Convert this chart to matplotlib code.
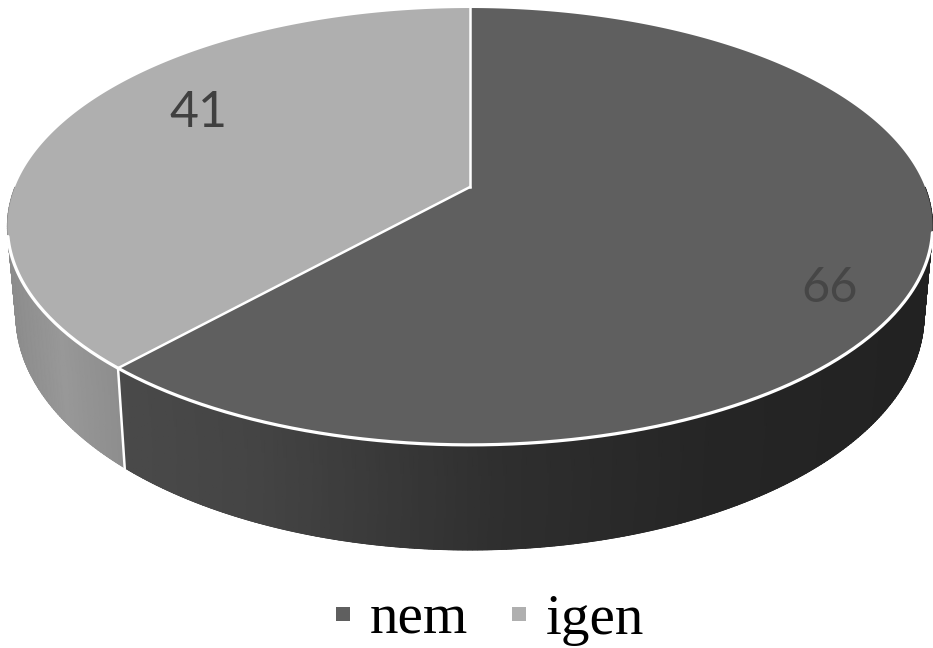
import matplotlib
matplotlib.use('Agg')
import matplotlib.pyplot as plt
from matplotlib.lines import Line2D
import numpy as np

kategoriak = ['nem', 'igen']
ertekek = [66, 41]
szinek = ['#5f5f5f', '#afafaf']

# oldalfal szinatmenet: x pixel -> szurke
nem_x = [120, 260, 500, 700, 930]
nem_sz = [0x4a, 0x44, 0x2f, 0x26, 0x22]
igen_x = [8, 60, 125]
igen_sz = [0x8c, 0x98, 0x8c]


def felso(theta):
    # teteje: perspektivikus kor
    u, v = -np.sin(theta), np.cos(theta)
    w = 1 + 0.1806 * v
    return 470 + 455 * u / w, 187 - 211.3 * v / w


def also(theta):
    u, v = -np.sin(theta), np.cos(theta)
    w = 1 + 0.18 * v
    return 470 + 446.6 * u / w, 273.4 - 226.8 * v / w


def oldalfal(ax, t, xp, sz):
    x1, y1 = felso(t)
    x2, y2 = also(t)
    g = np.interp(x1, xp, sz) / 255
    # korvonal, hogy a gouraud szele ne legyen reces
    ax.fill(np.r_[x1, x2[::-1]], np.r_[y1, y2[::-1]], color=(g.mean(), g.mean(), g.mean()), lw=0.5, zorder=1)
    ax.pcolormesh(np.c_[x1, x2], np.c_[y1, y2], np.c_[g, g], shading='gouraud',
                  cmap='gray', vmin=0, vmax=1, zorder=1.5)


fig = plt.figure(figsize=(9.33, 6.48), dpi=100)
ax = fig.add_axes([0, 0, 1, 1])
ax.set_xlim(0, 933)
ax.set_ylim(648, 0)
ax.axis('off')

hatar = 2 * np.pi * ertekek[1] / sum(ertekek)

# oldalfalak
oldalfal(ax, np.linspace(np.pi / 2, hatar, 90), igen_x, igen_sz)
oldalfal(ax, np.linspace(hatar, 3 * np.pi / 2, 260), nem_x, nem_sz)

# teteje
t_igen = np.linspace(0, hatar, 200)
t_nem = np.linspace(hatar, 2 * np.pi, 300)
xi, yi = felso(t_igen)
xn, yn = felso(t_nem)
kx, ky = 470, 187
ax.fill(np.r_[kx, xn], np.r_[ky, yn], color=szinek[0], lw=0, zorder=2)
ax.fill(np.r_[kx, xi], np.r_[ky, yi], color=szinek[1], lw=0, zorder=2)

# feher vonalak
x, y = felso(np.array([0.0]))
ax.plot([x[0], kx], [y[0], ky], color='white', lw=1.8, zorder=3)
x, y = felso(np.array([hatar]))
ax.plot([x[0], kx], [y[0], ky], color='white', lw=1.8, zorder=3)
x2, y2 = also(np.array([hatar]))
ax.plot([x[0], x2[0]], [y[0], y2[0]], color='white', lw=1.8, zorder=3)
t = np.linspace(np.radians(103), np.radians(258), 300)
x, y = felso(t)
ax.plot(x, y, color='white', lw=2.3, zorder=3, solid_capstyle='round')

ax.text(198, 113, str(ertekek[1]), fontsize=36, family='Lato', color='#404040',
        ha='center', va='center', zorder=4)
ax.text(830, 288, str(ertekek[0]), fontsize=35, family='Lato', color='#464646',
        ha='center', va='center', zorder=4)

jelek = [Line2D([], [], ls='none', marker='s', ms=10.5, color=szinek[0], mew=0),
         Line2D([], [], ls='none', marker='s', ms=10.5, color=szinek[1], mew=0)]
ax.legend(jelek, kategoriak, loc='center', bbox_to_anchor=(486.5 / 933, 1 - 620 / 648),
          ncol=2, frameon=False, handlelength=0.5, handletextpad=0.22, columnspacing=0.65,
          borderpad=0, prop={'family': 'Liberation Serif', 'size': 41})

fig.savefig('out.png', dpi=100)
plt.close()
